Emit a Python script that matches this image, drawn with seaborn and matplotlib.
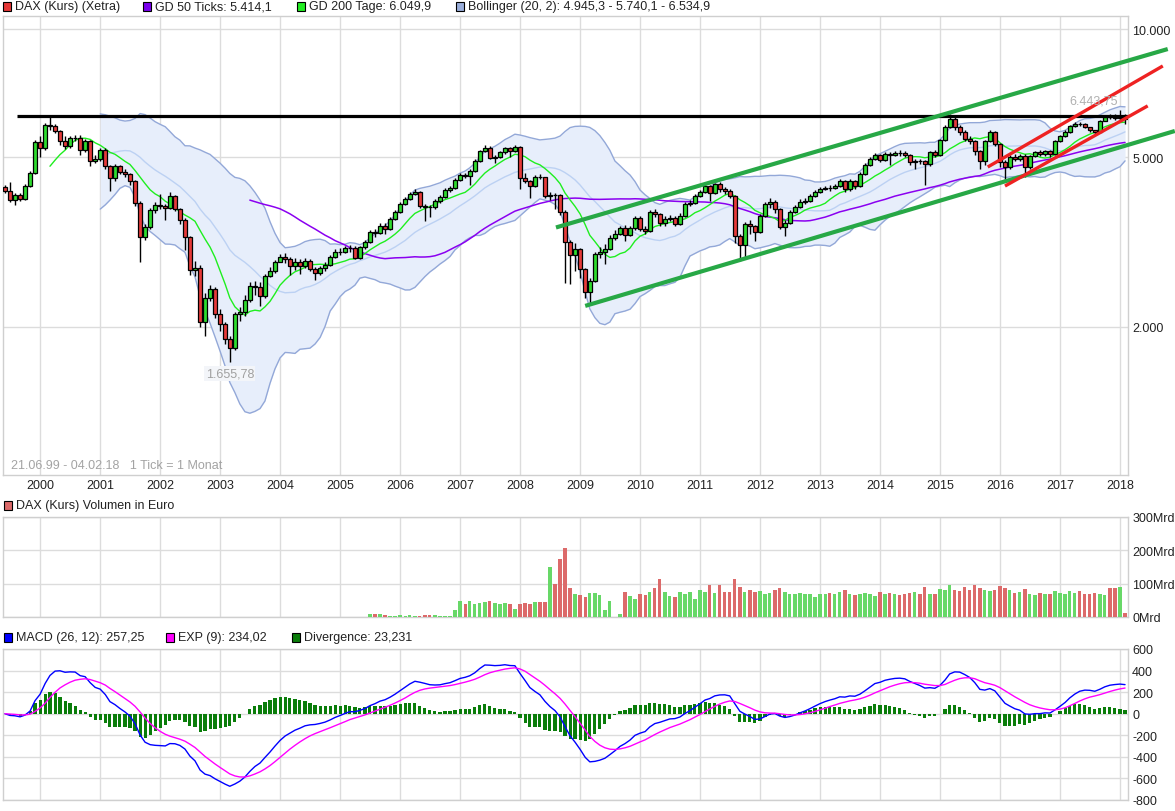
import pandas as pd
import matplotlib
matplotlib.use("Agg")
import matplotlib.pyplot as plt
import matplotlib.dates as mdates
from matplotlib.patches import Rectangle
from matplotlib.ticker import NullLocator
import seaborn as sns

# Monthly candles 06/1999 - 02/2018
START_MONTH = "1999-06-01"
FIRST_OPEN = 4256
CLOSE = [
    4165, 3967, 4076, 3989, 4279, 4591, 5429,
    5256, 5952, 5920, 5762, 5459, 5313, 5548, 5548, 5199, 5459, 4899, 4952,
    5199, 4768, 4468, 4768, 4616, 4566, 4396, 3904, 3248, 3428, 3759, 3861,
    3840, 3799, 4054, 3779, 3561, 3248, 2717, 2747, 2051, 2336, 2452, 2142,
    2030, 1872, 1783, 2142, 2166, 2310, 2492, 2479, 2361, 2630, 2703, 2838,
    2915, 2884, 2777, 2838, 2777, 2853, 2732, 2674, 2747, 2792, 2915, 2995,
    2995, 3060, 3060, 2900, 3077, 3161, 3337, 3319, 3447, 3392, 3580, 3718,
    3882, 3989, 4098, 4142, 3840, 3820, 3820, 3946, 4032, 4187, 4234, 4420,
    4541, 4517, 4641, 4899, 5171, 5256, 4979, 5006, 5143, 5256, 5171, 5285,
    4468, 4396, 4279, 4493, 4493, 4054, 4076, 4076, 3718, 3161, 2947, 3044,
    2732, 2413, 2560, 2963, 2995, 3044, 3230, 3301, 3410, 3283, 3410, 3599,
    3392, 3356, 3718, 3678, 3503, 3580, 3599, 3484, 3638, 3882, 3904, 4054,
    4142, 4279, 4120, 4326, 4210, 4165, 4054, 3266, 3110, 3484, 3447, 3337,
    3638, 3882, 3925, 3779, 3428, 3503, 3718, 3820, 3925, 3946, 4054, 4142,
    4210, 4234, 4234, 4279, 4396, 4210, 4396, 4279, 4566, 4794, 4952, 5061,
    4925, 5088, 5061, 5116, 5116, 5061, 4872, 4899, 4899, 4820, 5143, 5061,
    5488, 5888, 6149, 5888, 5731, 5518, 5459, 5171, 4899, 5459, 5731, 5371,
    4872, 4743, 5006, 4952, 5033, 4743, 5033, 5143, 5088, 5171, 5088, 5459,
    5608, 5731, 5920, 5984, 5984, 5888, 5794, 5731, 6083, 6215, 6215, 6182,
    6215, 6149,
]
HIGH = [
    4300, 4370, 4110, 4120, 4330, 4640, 5480,
    5600, 6010, 6230, 5980, 5790, 5600, 5620, 5640, 5640, 5520, 5500, 5050,
    5250, 5250, 4800, 4820, 4800, 4680, 4600, 4420, 3950, 3480, 3800, 3930,
    4090, 3880, 4150, 4080, 3790, 3600, 3260, 2850, 2790, 2400, 2500, 2480,
    2200, 2050, 1900, 2170, 2230, 2370, 2540, 2560, 2540, 2660, 2760, 2870,
    2960, 2980, 2920, 2900, 2880, 2900, 2880, 2760, 2780, 2830, 2950, 3040,
    3060, 3090, 3110, 3100, 3100, 3200, 3370, 3400, 3500, 3500, 3620, 3760,
    3920, 4030, 4140, 4200, 4160, 3880, 3860, 3990, 4070, 4230, 4290, 4460,
    4590, 4600, 4680, 4940, 5210, 5350, 5300, 5070, 5180, 5290, 5290, 5330,
    5300, 4600, 4420, 4540, 4560, 4500, 4140, 4130, 4100, 3750, 3200, 3150,
    3060, 2740, 2600, 3000, 3080, 3120, 3280, 3370, 3450, 3470, 3450, 3640,
    3640, 3450, 3760, 3780, 3700, 3640, 3660, 3640, 3690, 3920, 3960, 4090,
    4180, 4320, 4300, 4360, 4380, 4260, 4200, 4080, 3300, 3520, 3560, 3460,
    3680, 3920, 4000, 3960, 3800, 3560, 3760, 3870, 3980, 4010, 4100, 4190,
    4250, 4280, 4300, 4330, 4450, 4420, 4440, 4420, 4610, 4840, 5000, 5110,
    5100, 5140, 5130, 5170, 5190, 5180, 5080, 4950, 4960, 4920, 5180, 5200,
    5530, 5940, 6300, 6200, 5960, 5800, 5600, 5500, 5200, 5500, 5790, 5760,
    5390, 4920, 5050, 5080, 5100, 5100, 5070, 5180, 5200, 5200, 5200, 5500,
    5650, 5780, 5960, 6040, 6060, 6010, 5900, 5800, 6120, 6280, 6330, 6330,
    6444, 6300,
]
LOW = [
    4120, 3920, 3860, 3950, 3960, 4250, 4560,
    5010, 5200, 5800, 5700, 5350, 5220, 5250, 5450, 5050, 5150, 4760, 4850,
    4900, 4700, 4165, 4400, 4560, 4500, 4300, 3850, 2838, 3200, 3400, 3700,
    3780, 3561, 3770, 3740, 3480, 3028, 2650, 2630, 2000, 1900, 2300, 2100,
    1950, 1820, 1656, 1760, 2060, 2120, 2280, 2380, 2240, 2340, 2620, 2680,
    2830, 2820, 2650, 2720, 2660, 2750, 2700, 2580, 2640, 2700, 2780, 2900,
    2950, 2980, 3000, 2880, 2880, 3040, 3150, 3240, 3300, 3300, 3370, 3560,
    3700, 3860, 3960, 4070, 3800, 3540, 3620, 3780, 3900, 4000, 4150, 4200,
    4400, 4460, 4300, 4620, 4880, 5140, 4950, 4850, 4990, 5100, 5000, 5150,
    4210, 4350, 4000, 4250, 4440, 4000, 3960, 3779, 3650, 2533, 2519, 2700,
    2600, 2330, 2273, 2540, 2900, 2800, 3030, 3200, 3280, 3180, 3260, 3380,
    3360, 3300, 3340, 3620, 3440, 3450, 3540, 3440, 3460, 3620, 3850, 3880,
    4030, 4120, 3950, 4100, 4150, 4100, 4000, 3150, 2850, 2900, 3300, 3180,
    3320, 3620, 3800, 3700, 3390, 3260, 3480, 3700, 3800, 3880, 3930, 4030,
    4120, 4180, 4170, 4200, 4250, 4150, 4160, 4200, 4250, 4540, 4770, 4930,
    4880, 4900, 4800, 5030, 5040, 5000, 4800, 4700, 4820, 4303, 4780, 5000,
    5040, 5460, 5860, 5800, 5650, 5450, 5380, 5050, 4691, 4800, 5440, 5300,
    4750, 4373, 4700, 4900, 4900, 4500, 4700, 5010, 5040, 5030, 5000, 5060,
    5440, 5590, 5700, 5900, 5920, 5850, 5740, 5650, 5710, 6070, 6150, 6120,
    6120, 6000,
]

# volume in Mrd Euro, first bar 07/2005
VOLUME_START = "2005-07-01"
VOLUME_MRD = [
    10, 10, 10, 7, 4, 4,
    7, 4, 7, 4, 4, 7, 7, 7, 4, 4, 4, 22,
    49, 40, 49, 40, 43, 46, 49, 43, 40, 43, 40, 25,
    40, 43, 40, 46, 46, 46, 150, 98, 174, 207, 86, 68,
    65, 59, 71, 71, 65, 22, 49, 0, 10, 74, 62, 53,
    68, 65, 74, 86, 113, 74, 62, 59, 74, 68, 74, 53,
    80, 74, 95, 71, 95, 74, 74, 113, 89, 74, 80, 75,
    78, 70, 72, 80, 88, 75, 70, 68, 72, 70, 68, 60,
    70, 68, 72, 70, 75, 80, 68, 65, 70, 72, 68, 62,
    75, 70, 72, 68, 65, 70, 72, 75, 70, 90, 70, 68,
    85, 80, 95, 82, 78, 90, 80, 95, 88, 80, 78, 82,
    92, 88, 80, 72, 75, 85, 70, 65, 72, 68, 70, 78,
    72, 70, 78, 72, 78, 70, 68, 72, 70, 65, 87, 87,
    90, 13,
]

PRICE_TICKS = [2000, 5000, 10000]
PRICE_LABELS = ["2.000", "5.000", "10.000"]
VOL_TICKS = [0, 100, 200, 300]
VOL_LABELS = ["0Mrd", "100Mrd", "200Mrd", "300Mrd"]
MACD_TICKS = [-800, -600, -400, -200, 0, 200, 400, 600]

# hand drawn lines (date, price)
RESISTANCE = [("1999-08-13", 6250), ("2018-02-19", 6250)]
CHANNEL_UP = [("2008-08-07", 3420), ("2018-10-19", 8975)]
CHANNEL_DOWN = [("2009-02-01", 2238), ("2018-12-01", 5762)]
TREND_UP = [("2015-10-19", 4743), ("2018-09-19", 8190)]
TREND_DOWN = [("2016-02-01", 4279), ("2018-06-19", 6600)]

GREEN = "#2edc2e"
RED = "#e63a3a"

dates = pd.date_range(START_MONTH, periods=len(CLOSE), freq="MS")
df = pd.DataFrame({"date": dates, "close": CLOSE, "high": HIGH, "low": LOW})
df["open"] = df["close"].shift(1).fillna(FIRST_OPEN)
df["gd200"] = df["close"].rolling(10).mean()
df["gd50"] = df["close"].rolling(50).mean()
bb_mid = df["close"].rolling(20).mean()
bb_sd = df["close"].rolling(20).std(ddof=0)
df["bb_mid"] = bb_mid
df["bb_up"] = bb_mid + 2 * bb_sd
df["bb_lo"] = bb_mid - 2 * bb_sd
ema12 = df["close"].ewm(span=12, adjust=False).mean()
ema26 = df["close"].ewm(span=26, adjust=False).mean()
df["macd"] = ema12 - ema26
df["signal"] = df["macd"].ewm(span=9, adjust=False).mean()
df["div"] = df["macd"] - df["signal"]
df["up"] = df["close"] > df["open"]

vol = pd.DataFrame({"date": pd.date_range(VOLUME_START, periods=len(VOLUME_MRD), freq="MS"),
                    "vol": VOLUME_MRD})
vol = vol.merge(df[["date", "up"]], on="date", how="left")

sns.set_style("white")
plt.rcParams["font.family"] = ["Liberation Sans", "DejaVu Sans"]

W, H = 1175, 812
fig = plt.figure(figsize=(W / 100, H / 100), dpi=100)


def box(left, top, right, bottom):
    return [left / W, 1 - bottom / H, (right - left) / W, (bottom - top) / H]


ax = fig.add_axes(box(3, 17, 1128, 476))
axv = fig.add_axes(box(3, 518, 1128, 618))
axm = fig.add_axes(box(3, 650, 1128, 801))

xmin = dates[0] - pd.Timedelta(days=12)
xmax = dates[-1] + pd.Timedelta(days=18)

for a in (ax, axv, axm):
    for s in a.spines.values():
        s.set_color("#cfcfcf")
        s.set_linewidth(1)
    a.grid(True, color="#dcdcdc", lw=1)
    a.set_axisbelow(True)
    a.yaxis.tick_right()
    a.tick_params(length=0, labelsize=9, colors="#222222", pad=3)
    a.xaxis.set_major_locator(mdates.YearLocator())
    a.xaxis.set_major_formatter(mdates.DateFormatter("%Y"))
    a.set_xlim(xmin, xmax)

# ---- price panel ----
ax.fill_between(df["date"], df["bb_lo"], df["bb_up"], color="#e7eefb", lw=0, zorder=1)
sns.lineplot(data=df, x="date", y="bb_up", ax=ax, color="#93a8d8", lw=1, zorder=2)
sns.lineplot(data=df, x="date", y="bb_lo", ax=ax, color="#93a8d8", lw=1, zorder=2)
sns.lineplot(data=df, x="date", y="bb_mid", ax=ax, color="#bcd1f3", lw=1, zorder=2)
sns.lineplot(data=df, x="date", y="gd50", ax=ax, color="#8a00f0", lw=1.1, zorder=3)
sns.lineplot(data=df, x="date", y="gd200", ax=ax, color="#1fee1f", lw=1, zorder=3)

body_lo = df[["open", "close"]].min(axis=1)
body_h = (df["close"] - df["open"]).abs()
ax.vlines(df["date"], df["low"], df["high"], color="black", lw=1, zorder=4)
ax.bar(df["date"], body_h, bottom=body_lo, width=25,
       color=[GREEN if u else RED for u in df["up"]],
       edgecolor="black", linewidth=0.9, zorder=5)

for line, color, lw in [(RESISTANCE, "black", 2.3), (CHANNEL_UP, "#27a846", 3.0),
                        (CHANNEL_DOWN, "#27a846", 3.0), (TREND_UP, "#ee2222", 2.4),
                        (TREND_DOWN, "#ee2222", 2.4)]:
    xs = [pd.Timestamp(d) for d, _ in line]
    ys = [v for _, v in line]
    ax.plot(xs, ys, color=color, lw=lw, solid_capstyle="butt", clip_on=False, zorder=7)

ax.set_yscale("log")
ax.set_ylim(897, 10730)
ax.set_yticks(PRICE_TICKS)
ax.set_yticklabels(PRICE_LABELS)
ax.yaxis.set_minor_locator(NullLocator())
ax.set_xlabel("")
ax.set_ylabel("")

i_low = df["low"].idxmin()
ax.annotate("1.655,78", xy=(df["date"][i_low], df["low"][i_low]), xytext=(0, -12),
            textcoords="offset pixels", ha="center", va="center", fontsize=9,
            color="#a0a0a0", zorder=8,
            bbox=dict(boxstyle="square,pad=0.12", fc="#f3f5f9", ec="none"))
i_high = df["high"].idxmax()
ax.annotate("6.443,75", xy=(df["date"][i_high], df["high"][i_high]), xytext=(-2, 10),
            textcoords="offset pixels", ha="right", va="center", fontsize=9,
            color="#b0b0b0", zorder=8)
ax.text(8 / 1125, 10 / 459, "21.06.99 - 04.02.18   1 Tick = 1 Monat", transform=ax.transAxes,
        ha="left", va="center", fontsize=9, color="#a3a3a3")

# ---- volume panel ----
axv.bar(vol["date"], vol["vol"], width=20, linewidth=0,
        color=["#68d868" if u else "#dc6a6a" for u in vol["up"]], zorder=3)
axv.set_ylim(0, 300)
axv.set_yticks(VOL_TICKS)
axv.set_yticklabels(VOL_LABELS)
axv.set_xticklabels([])

# ---- MACD panel ----
axm.bar(df["date"], df["div"], width=19, linewidth=0, color="#0a7d0a", zorder=3)
sns.lineplot(data=df, x="date", y="macd", ax=axm, color="#0000ff", lw=1, zorder=4)
sns.lineplot(data=df, x="date", y="signal", ax=axm, color="#ff00ff", lw=1, zorder=4)
axm.set_ylim(-800, 600)
axm.set_yticks(MACD_TICKS)
axm.set_yticklabels([str(t) for t in MACD_TICKS])
axm.set_xticklabels([])
axm.set_xlabel("")
axm.set_ylabel("")


def legend_item(px, py, color, label):
    fig.add_artist(Rectangle((px / W, 1 - (py + 5) / H), 8 / W, 9 / H, transform=fig.transFigure,
                             fc=color, ec="black", lw=0.8))
    fig.text((px + 12) / W, 1 - py / H, label, ha="left", va="center", fontsize=9, color="#222222")


legend_item(3, 7, "#e53838", "DAX (Kurs) (Xetra)")
legend_item(143, 7, "#7a00ee", "GD 50 Ticks: 5.414,1")
legend_item(297, 7, "#22ee22", "GD 200 Tage: 6.049,9")
legend_item(456, 7, "#9aaedb", "Bollinger (20, 2): 4.945,3 - 5.740,1 - 6.534,9")
legend_item(4, 506, "#dc6a6a", "DAX (Kurs) Volumen in Euro")
legend_item(4, 638, "#0000ff", "MACD (26, 12): 257,25")
legend_item(166, 638, "#ff00ff", "EXP (9): 234,02")
legend_item(292, 638, "#0a7d0a", "Divergence: 23,231")

fig.savefig("out.png", dpi=100)
